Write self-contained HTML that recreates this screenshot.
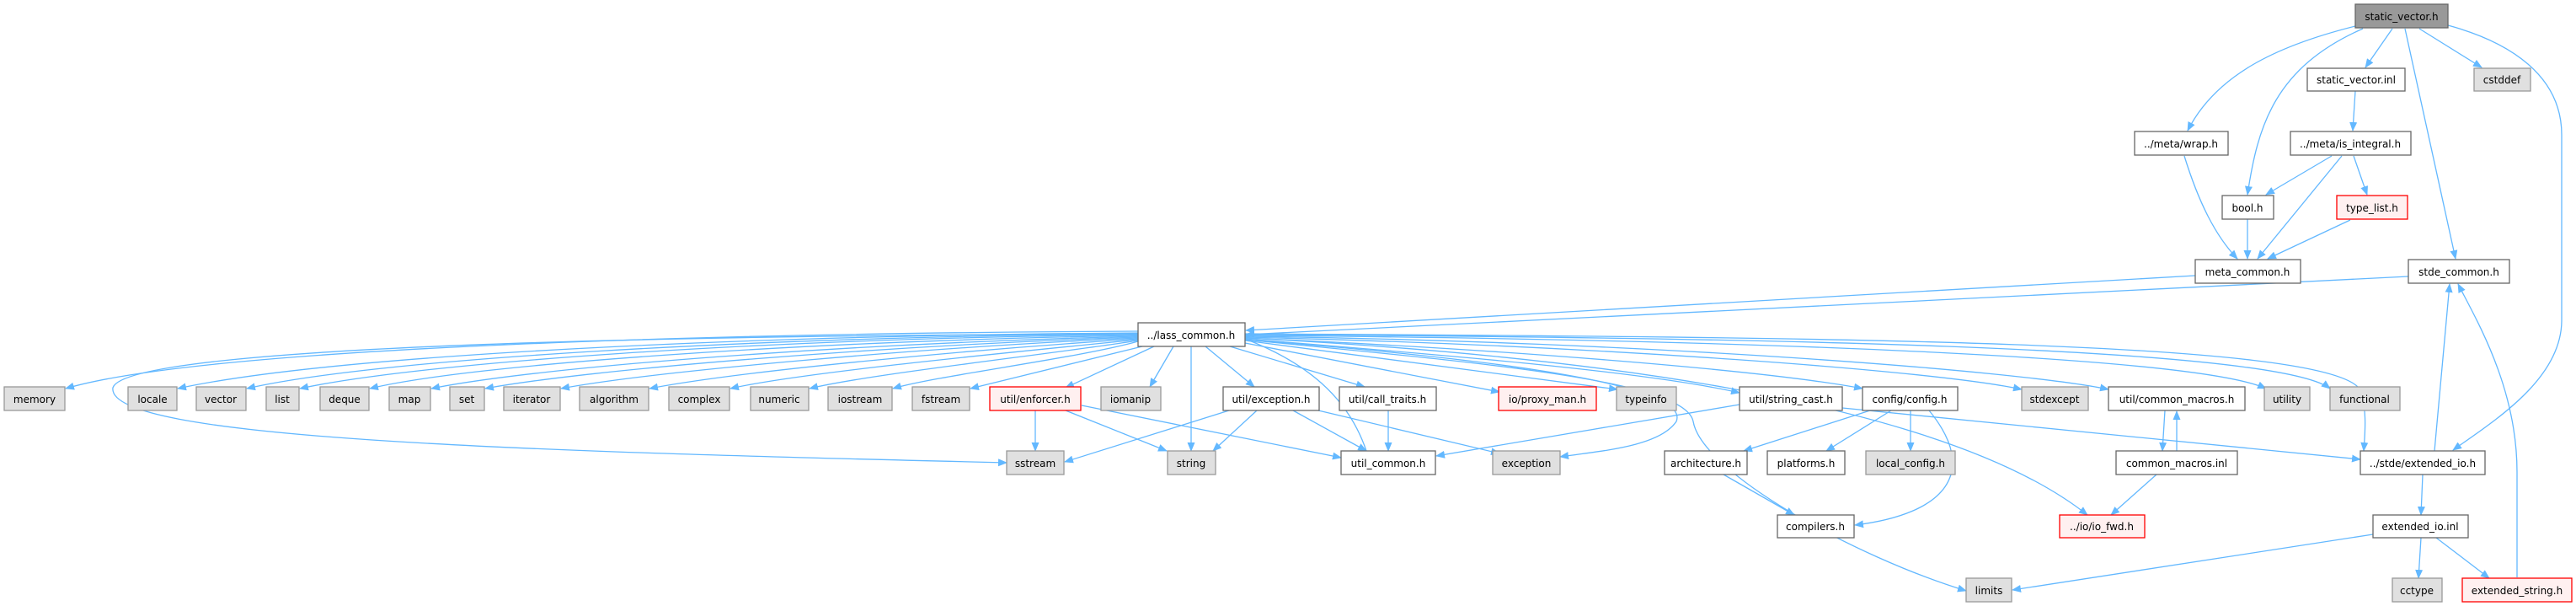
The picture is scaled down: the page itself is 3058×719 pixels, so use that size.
<!DOCTYPE html>
<html><head><meta charset="utf-8"><style>
html,body{margin:0;padding:0;background:#fff;width:3058px;height:719px;overflow:hidden}
svg text{font-family:"DejaVu Sans","Liberation Sans",sans-serif;font-size:12px;text-anchor:middle;fill:#000}
.w{fill:#fff;stroke:#666;stroke-width:1.3}
.g{fill:#e0e0e0;stroke:#999;stroke-width:1.3}
.r{fill:#fff0f0;stroke:#f00;stroke-width:1.3}
.d{fill:#999;stroke:#666;stroke-width:1.3}
path.e{fill:none;stroke:#63b8ff;stroke-width:1.3;marker-end:url(#a)}
path.n{fill:none;stroke:#63b8ff;stroke-width:1.3}
</style></head><body>
<svg width="3058" height="719" viewBox="0 0 3058 719" xmlns="http://www.w3.org/2000/svg">
<defs><marker id="a" markerWidth="11" markerHeight="9" refX="10" refY="4.5" orient="auto" markerUnits="userSpaceOnUse"><path d="M0,0 L11,4.5 L0,9 z" fill="#63b8ff"/></marker></defs>

<path class="e" d="M2796,31 C2700,55 2630,90 2597,155"/>
<path class="e" d="M2805,34 C2700,80 2680,150 2668,231"/>
<path class="e" d="M2840,34 L2808,80"/>
<path class="e" d="M2855,34 L2915,307"/>
<path class="e" d="M2872,34 L2946,80"/>
<path class="e" d="M2906,30 C2980,50 3041,90 3041,160 L3041,380 C3041,450 2960,500 2912,534"/>
<path class="e" d="M2796,108 L2793,155"/>
<path class="e" d="M2768,185 L2690,231"/>
<path class="e" d="M2780,185 L2680,307"/>
<path class="e" d="M2794,185 L2810,231"/>
<path class="e" d="M2593,185 C2610,240 2630,280 2656,307"/>
<path class="e" d="M2668,260 L2668,307"/>
<path class="e" d="M2790,261 L2692,307"/>
<path class="e" d="M2606,327 L1479,392"/>
<path class="e" d="M2859,328 L1479,397"/>
<path class="e" d="M2890,535 L2908,337"/>
<path class="e" d="M2988,685 L2988,560 C2988,460 2940,380 2918,337"/>

<path class="e" d="M1351,393 C900,395 250,410 78,461"/>
<path class="e" d="M1351,395 C900,398 400,420 211,461"/>
<path class="e" d="M1351,396 C900,400 450,425 293,461"/>
<path class="e" d="M1351,397 C900,402 500,430 356,461"/>
<path class="e" d="M1351,398 C950,405 560,432 439,461"/>
<path class="e" d="M1351,399 C1000,408 640,435 512,461"/>
<path class="e" d="M1351,400 C1050,410 700,438 576,461"/>
<path class="e" d="M1351,401 C1100,412 780,440 666,461"/>
<path class="e" d="M1351,402 C1150,415 880,440 771,461"/>
<path class="e" d="M1351,403 C1200,418 950,442 867,461"/>
<path class="e" d="M1351,404 C1250,420 1030,444 961,461"/>
<path class="e" d="M1351,405 C1280,425 1110,446 1060,461"/>
<path class="e" d="M1356,411 L1152,461"/>
<path class="e" d="M1370,411 L1265,460"/>
<path class="e" d="M1393,411 L1365,459"/>
<path class="e" d="M1431,411 L1489,459"/>
<path class="e" d="M1460,411 L1620,459"/>
<path class="e" d="M1478,407 L1780,465"/>
<path class="e" d="M1478,404 L1920,462"/>
<path class="e" d="M1478,402 C1700,420 1950,440 2065,466"/>
<path class="e" d="M1478,401 C1800,415 2100,440 2211,461"/>
<path class="e" d="M1478,400 C1900,410 2300,440 2400,462"/>
<path class="e" d="M1478,399 C1950,405 2400,440 2503,462"/>
<path class="e" d="M1478,398 C2000,402 2600,420 2690,461"/>
<path class="e" d="M1478,397 C2050,400 2700,410 2766,461"/>
<path class="e" d="M1478,396 C2200,400 2750,405 2800,460 C2810,480 2808,510 2806,535"/>
<path class="e" d="M1414,411 L1414,535"/>
<path class="e" d="M1351,396 C800,398 150,410 134,460 C125,520 600,535 1195,549"/>
<path class="n" d="M1478,402 C1550,430 1600,470 1622,535"/>
<path class="e" d="M1478,403 C1700,420 2010,450 1990,500 C1970,530 1900,535 1852,542"/>
<path class="e" d="M1478,403 C1750,430 2000,450 2010,500 C2020,560 2200,660 2334,701"/>
<path class="e" d="M1478,401 C1850,420 2300,470 2478,611"/>

<path class="e" d="M1229,487 L1229,535"/>
<path class="e" d="M1265,487 L1385,535"/>
<path class="e" d="M1284,481 L1592,543"/>
<path class="e" d="M1459,487 L1264,548"/>
<path class="e" d="M1492,487 L1440,535"/>
<path class="e" d="M1535,487 L1622,535"/>
<path class="e" d="M1565,487 L1780,538"/>
<path class="e" d="M1648,487 L1648,535"/>
<path class="e" d="M2065,480 L1705,541"/>
<path class="e" d="M2187,484 L2802,545"/>
<path class="e" d="M2220,487 L2070,535"/>
<path class="e" d="M2245,487 L2168,535"/>
<path class="e" d="M2268,487 L2268,535"/>
<path class="e" d="M2290,487 C2350,560 2310,610 2202,623"/>
<path class="e" d="M2046,563 L2130,611"/>
<path class="e" d="M2570,487 L2567,535"/>
<path class="e" d="M2584,535 L2584,488"/>
<path class="e" d="M2560,563 L2506,611"/>
<path class="e" d="M2876,563 L2874,611"/>
<path class="e" d="M2817,634 L2389,700"/>
<path class="e" d="M2874,638 L2871,686"/>
<path class="e" d="M2892,638 L2955,686"/>

<rect class="d" x="2796" y="5" width="110" height="28"/><text x="2851" y="24">static_vector.h</text>
<rect class="w" x="2739" y="81" width="116" height="27"/><text x="2797" y="99">static_vector.inl</text>
<rect class="g" x="2937" y="81" width="67" height="27"/><text x="2970" y="99">cstddef</text>
<rect class="w" x="2534" y="156" width="111" height="28"/><text x="2589" y="175">../meta/wrap.h</text>
<rect class="w" x="2719" y="156" width="143" height="28"/><text x="2790" y="175">../meta/is_integral.h</text>
<rect class="w" x="2638" y="232" width="61" height="28"/><text x="2668" y="251">bool.h</text>
<rect class="r" x="2774" y="232" width="84" height="28"/><text x="2816" y="251">type_list.h</text>
<rect class="w" x="2606" y="308" width="125" height="28"/><text x="2668" y="327">meta_common.h</text>
<rect class="w" x="2859" y="308" width="120" height="28"/><text x="2919" y="327">stde_common.h</text>
<rect class="w" x="1351" y="383" width="127" height="28"/><text x="1414" y="402">../lass_common.h</text>

<g>
<rect class="g" x="5" y="459" width="72" height="28"/><text x="41" y="478">memory</text>
<rect class="g" x="152" y="459" width="58" height="28"/><text x="181" y="478">locale</text>
<rect class="g" x="233" y="459" width="59" height="28"/><text x="262" y="478">vector</text>
<rect class="g" x="316" y="459" width="39" height="28"/><text x="335" y="478">list</text>
<rect class="g" x="380" y="459" width="58" height="28"/><text x="409" y="478">deque</text>
<rect class="g" x="462" y="459" width="49" height="28"/><text x="486" y="478">map</text>
<rect class="g" x="534" y="459" width="41" height="28"/><text x="554" y="478">set</text>
<rect class="g" x="598" y="459" width="67" height="28"/><text x="631" y="478">iterator</text>
<rect class="g" x="688" y="459" width="82" height="28"/><text x="729" y="478">algorithm</text>
<rect class="g" x="794" y="459" width="72" height="28"/><text x="830" y="478">complex</text>
<rect class="g" x="891" y="459" width="69" height="28"/><text x="925" y="478">numeric</text>
<rect class="g" x="983" y="459" width="76" height="28"/><text x="1021" y="478">iostream</text>
<rect class="g" x="1083" y="459" width="68" height="28"/><text x="1117" y="478">fstream</text>
<rect class="r" x="1175" y="459" width="108" height="28"/><text x="1229" y="478">util/enforcer.h</text>
<rect class="g" x="1307" y="459" width="71" height="28"/><text x="1342" y="478">iomanip</text>
<rect class="w" x="1452" y="459" width="114" height="28"/><text x="1509" y="478">util/exception.h</text>
<rect class="w" x="1590" y="459" width="115" height="28"/><text x="1647" y="478">util/call_traits.h</text>
<rect class="r" x="1779" y="459" width="116" height="28"/><text x="1837" y="478">io/proxy_man.h</text>
<rect class="g" x="1919" y="459" width="71" height="28"/><text x="1954" y="478">typeinfo</text>
<rect class="w" x="2065" y="459" width="122" height="28"/><text x="2126" y="478">util/string_cast.h</text>
<rect class="w" x="2211" y="459" width="113" height="28"/><text x="2267" y="478">config/config.h</text>
<rect class="g" x="2400" y="459" width="79" height="28"/><text x="2439" y="478">stdexcept</text>
<rect class="w" x="2503" y="459" width="162" height="28"/><text x="2584" y="478">util/common_macros.h</text>
<rect class="g" x="2688" y="459" width="54" height="28"/><text x="2715" y="478">utility</text>
<rect class="g" x="2766" y="459" width="83" height="28"/><text x="2807" y="478">functional</text>
</g>
<g>
<rect class="g" x="1195" y="535" width="68" height="28"/><text x="1229" y="554">sstream</text>
<rect class="g" x="1386" y="535" width="57" height="28"/><text x="1414" y="554">string</text>
<rect class="w" x="1592" y="535" width="112" height="28"/><text x="1648" y="554">util_common.h</text>
<rect class="g" x="1772" y="535" width="80" height="28"/><text x="1812" y="554">exception</text>
<rect class="w" x="1976" y="535" width="98" height="28"/><text x="2025" y="554">architecture.h</text>
<rect class="w" x="2098" y="535" width="92" height="28"/><text x="2144" y="554">platforms.h</text>
<rect class="g" x="2215" y="535" width="106" height="28"/><text x="2268" y="554">local_config.h</text>
<rect class="w" x="2512" y="535" width="144" height="28"/><text x="2584" y="554">common_macros.inl</text>
<rect class="w" x="2802" y="535" width="148" height="28"/><text x="2876" y="554">../stde/extended_io.h</text>
<rect class="w" x="2110" y="611" width="91" height="27"/><text x="2155" y="629">compilers.h</text>
<rect class="r" x="2445" y="611" width="101" height="27"/><text x="2495" y="629">../io/io_fwd.h</text>
<rect class="w" x="2817" y="611" width="113" height="27"/><text x="2873" y="629">extended_io.inl</text>
<rect class="g" x="2334" y="686" width="54" height="28"/><text x="2361" y="705">limits</text>
<rect class="g" x="2840" y="686" width="59" height="28"/><text x="2869" y="705">cctype</text>
<rect class="r" x="2923" y="686" width="130" height="28"/><text x="2988" y="705">extended_string.h</text>
</g>
</svg>
</body></html>
